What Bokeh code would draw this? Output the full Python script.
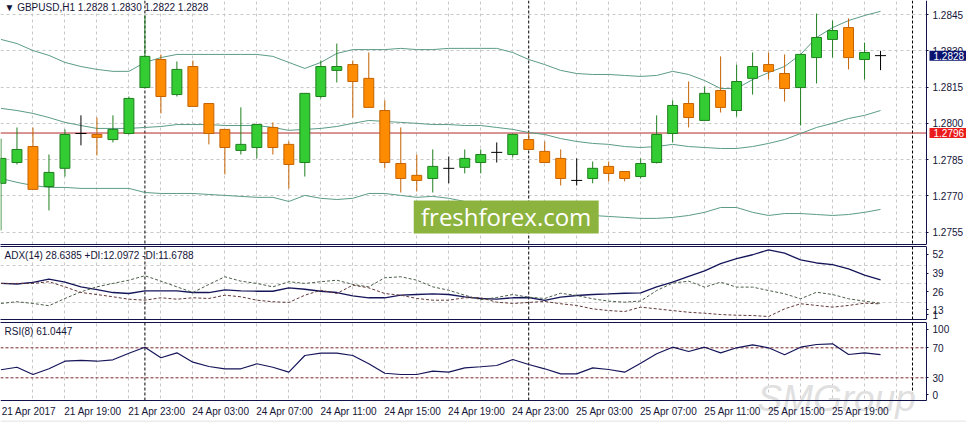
import numpy as np
from bokeh.plotting import figure
from bokeh.layouts import column
from bokeh.models import (ColumnDataSource, Span, Label, BoxAnnotation,
                          FixedTicker, LinearAxis, PrintfTickFormatter, Range1d)
from bokeh.embed import file_html
from bokeh.resources import INLINE

# ---------------- data (GBPUSD H1, bar 0 = 24 Apr 00:00) ----------------
bars = list(range(-9, 47))

open_ = [1.27752, 1.27838, 1.27904, 1.27739, 1.27814, 1.27958, 1.27954, 1.27933, 1.27958, 1.28148,
         1.28264, 1.28119, 1.28235, 1.28082, 1.27975, 1.27888, 1.27900, 1.27983, 1.27913, 1.27838,
         1.28111, 1.28219, 1.28243, 1.28186, 1.28053, 1.27834, 1.27785, 1.27772, 1.27814, 1.27818,
         1.27838, 1.27880, 1.27871, 1.27933, 1.27884, 1.27855, 1.27764, 1.27772, 1.27822, 1.27801,
         1.27780, 1.27838, 1.27958, 1.28082, 1.28012, 1.28136, 1.28053, 1.28186, 1.28243, 1.28206,
         1.28148, 1.28272, 1.28347, 1.28396, 1.28264, 1.28280]
high = [1.27937, 1.27983, 1.27983, 1.27871, 1.27975, 1.28033, 1.28024, 1.28033, 1.28111, 1.28446,
        1.28285, 1.28256, 1.28260, 1.28082, 1.27975, 1.28066, 1.27995, 1.28004, 1.27925, 1.28124,
        1.28260, 1.28330, 1.28260, 1.28293, 1.28095, 1.27983, 1.27871, 1.27892, 1.27863, 1.27892,
        1.27892, 1.27921, 1.27958, 1.27962, 1.27925, 1.27892, 1.27855, 1.27842, 1.27842, 1.27801,
        1.27855, 1.28033, 1.28095, 1.28173, 1.28152, 1.28277, 1.28243, 1.28293, 1.28293, 1.28285,
        1.28289, 1.28454, 1.28425, 1.28434, 1.28334, 1.28300]
low = [1.27557, 1.27830, 1.27727, 1.27640, 1.27780, 1.27909, 1.27867, 1.27921, 1.27954, 1.28148,
       1.28041, 1.28111, 1.28070, 1.27913, 1.27789, 1.27871, 1.27855, 1.27871, 1.27731, 1.27780,
       1.28103, 1.28169, 1.28024, 1.28066, 1.27814, 1.27714, 1.27718, 1.27714, 1.27752, 1.27793,
       1.27793, 1.27838, 1.27859, 1.27892, 1.27838, 1.27743, 1.27743, 1.27752, 1.27760, 1.27760,
       1.27772, 1.27834, 1.27921, 1.27983, 1.28012, 1.28045, 1.28028, 1.28119, 1.28181, 1.28090,
       1.27991, 1.28165, 1.28272, 1.28223, 1.28181, 1.28220]
close = [1.27855, 1.27892, 1.27727, 1.27797, 1.27954, 1.27958, 1.27942, 1.27975, 1.28103, 1.28277,
         1.28111, 1.28223, 1.28070, 1.27958, 1.27900, 1.27913, 1.27995, 1.27900, 1.27830, 1.28124,
         1.28235, 1.28235, 1.28173, 1.28066, 1.27838, 1.27772, 1.27764, 1.27822, 1.27814, 1.27855,
         1.27871, 1.27880, 1.27954, 1.27892, 1.27838, 1.27772, 1.27764, 1.27814, 1.27793, 1.27772,
         1.27834, 1.27954, 1.28074, 1.28024, 1.28124, 1.28066, 1.28173, 1.28235, 1.28215, 1.28144,
         1.28285, 1.28355, 1.28384, 1.28272, 1.28293, 1.28280]

bb_upper = [1.28347, 1.28330, 1.28301, 1.28281, 1.28252, 1.28235, 1.28223, 1.28215, 1.28215, 1.28252,
            1.28272, 1.28285, 1.28285, 1.28285, 1.28285, 1.28285, 1.28285, 1.28277, 1.28252, 1.28227,
            1.28252, 1.28289, 1.28305, 1.28305, 1.28305, 1.28310, 1.28305, 1.28305, 1.28310, 1.28310,
            1.28310, 1.28310, 1.28293, 1.28264, 1.28243, 1.28219, 1.28206, 1.28202, 1.28202, 1.28198,
            1.28194, 1.28198, 1.28215, 1.28202, 1.28177, 1.28144, 1.28144, 1.28181, 1.28210, 1.28235,
            1.28285, 1.28355, 1.28396, 1.28425, 1.28446, 1.28463]
bb_mid = [1.28062, 1.28053, 1.28041, 1.28024, 1.28004, 1.27991, 1.27979, 1.27979, 1.27979, 1.27983,
          1.27987, 1.27995, 1.27995, 1.27995, 1.27991, 1.27991, 1.27991, 1.27983, 1.27971, 1.27975,
          1.27979, 1.27987, 1.28000, 1.28012, 1.28008, 1.28004, 1.28000, 1.27995, 1.27995, 1.27991,
          1.27991, 1.27983, 1.27975, 1.27962, 1.27954, 1.27937, 1.27925, 1.27917, 1.27913, 1.27904,
          1.27900, 1.27904, 1.27913, 1.27904, 1.27900, 1.27896, 1.27896, 1.27904, 1.27917, 1.27933,
          1.27958, 1.27983, 1.28000, 1.28020, 1.28033, 1.28053]
bb_lower = [1.27772, 1.27756, 1.27743, 1.27735, 1.27735, 1.27731, 1.27731, 1.27731, 1.27731, 1.27714,
            1.27710, 1.27710, 1.27710, 1.27706, 1.27702, 1.27698, 1.27694, 1.27694, 1.27677, 1.27702,
            1.27690, 1.27685, 1.27690, 1.27710, 1.27710, 1.27702, 1.27694, 1.27698, 1.27690, 1.27677,
            1.27669, 1.27661, 1.27652, 1.27644, 1.27636, 1.27627, 1.27623, 1.27619, 1.27615, 1.27611,
            1.27607, 1.27607, 1.27611, 1.27619, 1.27632, 1.27652, 1.27652, 1.27632, 1.27619, 1.27627,
            1.27627, 1.27623, 1.27619, 1.27623, 1.27632, 1.27644]

adx = [26.1, 25.7, 26.8, 29.1, 27.0, 23.7, 21.8, 19.7, 19.0, 20.9,
       20.9, 20.9, 19.7, 19.7, 21.6, 20.9, 20.6, 20.6, 23.0, 22.0,
       20.6, 19.7, 17.4, 16.0, 16.0, 17.8, 18.3, 18.8, 18.3, 16.7,
       15.5, 15.1, 16.0, 16.2, 14.1, 16.5, 17.6, 18.3, 18.7, 19.2,
       19.5, 23.6, 27.0, 31.0, 34.9, 40.1, 43.5, 46.3, 49.8, 47.4,
       42.7, 40.5, 39.4, 36.4, 32.0, 28.6]
plus_di = [12.0, 13.2, 12.0, 10.4, 15.5, 20.2, 23.7, 26.1, 28.4, 31.5,
           27.7, 23.7, 19.7, 25.4, 30.8, 27.7, 26.1, 23.7, 27.3, 26.1,
           27.3, 28.4, 25.4, 23.7, 30.1, 30.8, 28.4, 23.7, 21.3, 17.8,
           14.6, 16.2, 18.3, 16.4, 15.5, 19.2, 17.6, 15.3, 13.6, 12.9,
           13.7, 21.1, 26.3, 27.7, 23.5, 27.0, 23.5, 23.5, 21.1, 18.8,
           15.3, 19.9, 18.3, 15.3, 13.6, 12.1]
minus_di = [26.1, 26.1, 26.1, 27.3, 23.7, 19.7, 18.3, 16.7, 15.0, 14.3,
            16.0, 15.0, 16.0, 15.5, 17.8, 16.7, 14.3, 13.2, 12.7, 17.8,
            21.3, 19.0, 24.9, 23.0, 19.0, 17.8, 15.5, 14.3, 14.3, 16.0,
            16.0, 12.9, 12.0, 12.7, 13.4, 11.8, 10.6, 8.2, 7.0, 6.3,
            9.4, 8.2, 7.0, 5.8, 5.1, 4.2, 3.7, 3.5, 2.8, 8.2,
            11.8, 10.6, 9.4, 10.6, 12.2, 11.7]
rsi = [40.7, 44.1, 34.4, 42.0, 52.1, 53.1, 52.1, 54.0, 62.8, 70.8,
       56.7, 63.3, 50.8, 45.1, 42.0, 42.0, 48.7, 44.1, 37.5, 59.7,
       62.8, 62.8, 59.7, 48.7, 36.1, 34.4, 34.4, 38.8, 37.5, 43.3,
       44.7, 46.4, 54.4, 47.7, 42.0, 35.3, 35.3, 43.3, 41.1, 37.5,
       49.5, 62.0, 70.8, 65.1, 70.8, 63.3, 70.0, 74.0, 70.0, 60.7,
       70.8, 74.4, 75.3, 61.1, 63.3, 61.0]

price_ticks = [1.2845, 1.2830, 1.2815, 1.2800, 1.2785, 1.2770, 1.2755]
time_label_bars = [-9, -5, -1, 3, 7, 11, 15, 19, 23, 27, 31, 35, 39, 43]
time_labels = ["21 Apr 2017", "21 Apr 19:00", "21 Apr 23:00", "24 Apr 03:00", "24 Apr 07:00",
               "24 Apr 11:00", "24 Apr 15:00", "24 Apr 19:00", "24 Apr 23:00", "25 Apr 03:00",
               "25 Apr 07:00", "25 Apr 11:00", "25 Apr 15:00", "25 Apr 19:00"]
day_starts = [0, 24, 48]
level_price = 1.2796
last_price = 1.2828
adx_grid = [13, 26, 39]
adx_axis_text = ["52", "39", "26", "13", "1"]
adx_axis_pos = [46.5, 33.3, 20.1, 7.7, 4.2]
rsi_levels = [70, 30]
rsi_axis_text = ["100", "70", "30", "0"]
rsi_axis_pos = [94.4, 70, 30, 7.7]

# ---------------- style / geometry ----------------
NAVY = "#12124a"
TXT = "#141438"
GRID = "#c8c8c8"
FONT = "Liberation Sans"
G_FILL, G_EDGE = "#33cc33", "#1f7f1f"
O_FILL, O_EDGE = "#ff8c00", "#c46200"
BB = "#5c9c86"

W = 966
X0, XAXIS = -9.03, 48.875          # left edge of chart, bar position of the price axis
XR_END = X0 + W / 15.992
xr = Range1d(X0, XR_END)
grid_bars = list(range(-7, 48, 2))


def base_fig(frame_h, yr, top, bottom):
    f = figure(frame_width=W, frame_height=frame_h, x_range=xr, y_range=yr,
               y_axis_location="right", output_backend="svg", toolbar_location=None,
               min_border_left=0, min_border_right=0, min_border_top=top,
               min_border_bottom=bottom, background_fill_color="white",
               border_fill_color="white")
    f.outline_line_color = None
    f.xgrid.ticker = FixedTicker(ticks=grid_bars)
    for g in (f.xgrid, f.ygrid):
        g.grid_line_color = GRID
        g.grid_line_dash = "3 3"
        g.grid_line_width = 1
    ya = f.yaxis[0]
    ya.fixed_location = XAXIS
    ya.axis_line_color = NAVY
    ya.major_tick_out = 2
    ya.major_tick_in = 0
    ya.minor_tick_out = 0
    ya.minor_tick_in = 0
    ya.major_tick_line_color = NAVY
    ya.major_label_standoff = 4
    ya.major_label_text_font = FONT
    ya.major_label_text_font_size = "10px"
    ya.major_label_text_color = TXT
    xa = f.xaxis[0]
    xa.axis_line_color = NAVY
    xa.bounds = (X0, XAXIS)
    xa.major_tick_out = 0
    xa.major_tick_in = 0
    xa.minor_tick_out = 0
    xa.minor_tick_in = 0
    for d in day_starts:
        f.add_layout(Span(location=d, dimension="height", line_color="black",
                          line_dash="3 2", line_width=1, level="underlay"))
    return f


def empty_axis():
    return LinearAxis(ticker=FixedTicker(ticks=[]), axis_line_color=NAVY, bounds=(X0, XAXIS),
                      major_tick_out=0, major_tick_in=0, minor_tick_out=0,
                      minor_tick_in=0, major_label_text_font_size="0px")


def right_mask(f):
    f.add_layout(BoxAnnotation(left=XAXIS, fill_color="white", fill_alpha=1.0,
                               line_color=None, level="underlay"))


# ---------------- main price panel ----------------
pm = base_fig(244, Range1d(1.27499, 1.28508), 0, 1)
pm.yaxis.ticker = FixedTicker(ticks=price_ticks)
pm.yaxis.formatter = PrintfTickFormatter(format="%.4f")
pm.ygrid.ticker = FixedTicker(ticks=price_ticks)
pm.xaxis.ticker = FixedTicker(ticks=[])
pm.xaxis.major_label_text_font_size = "0px"

pm.add_layout(Span(location=level_price, dimension="width", line_color="#b22a2a",
                   line_width=1, level="underlay"))
right_mask(pm)

for band in (bb_upper, bb_mid, bb_lower):
    pm.line(bars, band, line_color=BB, line_width=1)

x = np.array(bars, dtype=float)
o = np.array(open_)
h = np.array(high)
lo = np.array(low)
c = np.array(close)
up = c > o
dn = c < o
dj = c == o


def sub(mask):
    return ColumnDataSource(dict(x=x[mask], o=o[mask], h=h[mask], l=lo[mask], c=c[mask]))


s_up, s_dn, s_dj = sub(up), sub(dn), sub(dj)
pm.segment(x0="x", y0="l", x1="x", y1="h", source=s_up, line_color=G_EDGE, line_width=1)
pm.segment(x0="x", y0="l", x1="x", y1="h", source=s_dn, line_color=O_EDGE, line_width=1)
pm.segment(x0="x", y0="l", x1="x", y1="h", source=s_dj, line_color="black", line_width=1)
pm.vbar(x="x", width=0.62, bottom="o", top="c", source=s_up, fill_color=G_FILL,
        line_color=G_EDGE, line_width=1)
pm.vbar(x="x", width=0.62, bottom="c", top="o", source=s_dn, fill_color=O_FILL,
        line_color=O_EDGE, line_width=1)
pm.scatter(x="x", y="c", source=s_dj, marker="dash", size=11, line_color="black",
           line_width=1)

pm.add_layout(Label(x=4, y=237, x_units="screen", y_units="screen",
                    text="\u25bc GBPUSD,H1  1.2828 1.2830 1.2822 1.2828",
                    text_font=FONT, text_font_size="10px", text_color=TXT,
                    text_baseline="middle", text_align="left"))

pm.add_layout(BoxAnnotation(left=16.81, right=28.375, bottom=1.27545, top=1.27681,
                            fill_color="#8db33f", fill_alpha=1.0, line_color=None))
pm.add_layout(Label(x=22.59, y=1.27613, text="freshforex.com", text_font="Open Sans",
                    text_font_size="24px", text_color="white", text_align="center",
                    text_baseline="middle"))

pm.add_layout(Label(x=929, y=last_price, x_units="screen", text="1.2828",
                    text_font=FONT, text_font_size="10px", text_color="white",
                    background_fill_color="#0a1470", text_align="left",
                    text_baseline="middle", padding=(4, 1)))
pm.add_layout(Label(x=929, y=level_price, x_units="screen", text="1.2796",
                    text_font=FONT, text_font_size="10px", text_color="white",
                    background_fill_color="#ea1c1c", text_align="left",
                    text_baseline="middle", padding=(4, 1)))

# ---------------- ADX panel ----------------
pa = base_fig(73, Range1d(0.70, 52.11), 1, 1)
pa.yaxis.ticker = FixedTicker(ticks=adx_axis_pos)
pa.yaxis.major_label_overrides = dict(zip(adx_axis_pos, adx_axis_text))
pa.ygrid.ticker = FixedTicker(ticks=adx_grid)
pa.xaxis.ticker = FixedTicker(ticks=[])
pa.xaxis.major_label_text_font_size = "0px"
pa.add_layout(empty_axis(), "above")
right_mask(pa)
pa.line(bars, adx, line_color="#15155a", line_width=1.3)
pa.line(bars, plus_di, line_color="#4a5e48", line_width=1, line_dash="3 2")
pa.line(bars, minus_di, line_color="#623838", line_width=1, line_dash="3 2")
pa.add_layout(Label(x=4, y=64, x_units="screen", y_units="screen",
                    text="ADX(14) 28.6385 +DI:12.0972 -DI:11.6788",
                    text_font=FONT, text_font_size="10px", text_color=TXT,
                    text_baseline="middle", text_align="left"))

# ---------------- RSI panel (frame runs down to the page bottom) ----------------
RSI_BOTTOM = -0.27
pr = base_fig(100, Range1d(-29.6, 103.73), 2, 0)
pr.yaxis.ticker = FixedTicker(ticks=rsi_axis_pos)
pr.yaxis.major_label_overrides = dict(zip(rsi_axis_pos, rsi_axis_text))
pr.yaxis.bounds = (RSI_BOTTOM, 103.73)
pr.ygrid.ticker = FixedTicker(ticks=[])
tick_pos = [b + 1.75 for b in time_label_bars]
pr.xaxis.fixed_location = RSI_BOTTOM
pr.xaxis.ticker = FixedTicker(ticks=tick_pos)
pr.xaxis.major_label_overrides = dict(zip(tick_pos, time_labels))
pr.xaxis.major_label_standoff = 5
pr.xaxis.major_label_text_font = FONT
pr.xaxis.major_label_text_font_size = "10px"
pr.xaxis.major_label_text_color = TXT
pr.add_layout(empty_axis(), "above")
for lv in rsi_levels:
    pr.add_layout(Span(location=lv, dimension="width", line_color="#7a2a2a",
                       line_dash="3 2", line_width=1, level="underlay"))
right_mask(pr)
pr.add_layout(BoxAnnotation(top=RSI_BOTTOM, fill_color="white", fill_alpha=1.0,
                            line_color=None, level="underlay"))
pr.add_layout(BoxAnnotation(top=-26.93, fill_color="#ececec", fill_alpha=1.0,
                            line_color=None, level="underlay"))
pr.add_layout(Label(x=757, y=3.0, x_units="screen", text="SMGroup",
                    text_font=FONT, text_font_style="italic", text_font_size="37px",
                    text_color="#e0e0e0", text_baseline="middle", text_align="left",
                    level="underlay"))
pr.line(bars, rsi, line_color="#15155a", line_width=1.2)
pr.add_layout(Label(x=4, y=91, x_units="screen", y_units="screen",
                    text="RSI(8) 61.0447", text_font=FONT, text_font_size="10px",
                    text_color=TXT, text_baseline="middle", text_align="left"))

layout = column(pm, pa, pr, spacing=0)
open("out.html", "w").write(file_html(layout, INLINE))
